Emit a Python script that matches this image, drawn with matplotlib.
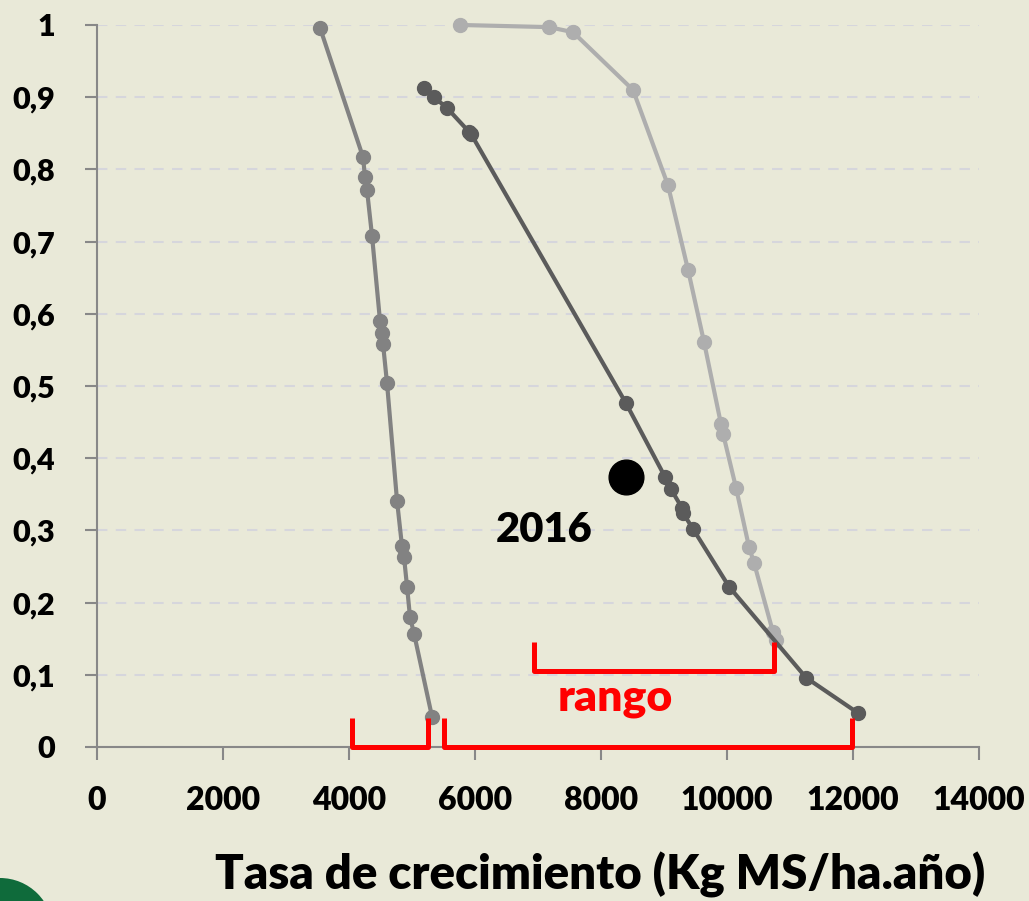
import matplotlib
matplotlib.use('Agg')
import matplotlib.pyplot as plt
from matplotlib.patches import Circle

# data
x_low = [3540, 4222, 4254, 4286, 4365, 4492, 4524, 4540, 4603, 4762, 4841, 4873, 4921, 4968, 5032, 5317]
y_low = [0.996, 0.817, 0.789, 0.771, 0.708, 0.590, 0.573, 0.558, 0.504, 0.341, 0.278, 0.263, 0.222, 0.180, 0.157, 0.042]

x_mid = [5190, 5349, 5556, 5905, 5937, 8397, 9016, 9111, 9286, 9302, 9460, 10032, 11254, 12079]
y_mid = [0.913, 0.900, 0.885, 0.852, 0.849, 0.476, 0.374, 0.357, 0.331, 0.324, 0.302, 0.222, 0.096, 0.047]

x_high = [5762, 7175, 7556, 8508, 9063, 9381, 9635, 9905, 9937, 10143, 10349, 10429, 10730, 10778]
y_high = [1.0, 0.997, 0.990, 0.910, 0.778, 0.661, 0.561, 0.447, 0.434, 0.359, 0.277, 0.255, 0.159, 0.148]

point_2016 = (8400, 0.374)

# brackets: (x start, x end, y top, y bottom)
brackets = [(4050, 5250, 0.040, 0.0), (5500, 11980, 0.040, 0.0), (6940, 10740, 0.145, 0.105)]

x_ticks = [0, 2000, 4000, 6000, 8000, 10000, 12000, 14000]
y_ticks = [0, 0.1, 0.2, 0.3, 0.4, 0.5, 0.6, 0.7, 0.8, 0.9, 1]
y_labels = ['0', '0,1', '0,2', '0,3', '0,4', '0,5', '0,6', '0,7', '0,8', '0,9', '1']

BG = '#E9E9D8'
plt.rcParams['font.family'] = ['Lato', 'DejaVu Sans']

fig = plt.figure(figsize=(10.29, 9.01), dpi=100, facecolor=BG)
ax = fig.add_axes([0.0943, 0.171, 0.8571, 0.8013], facecolor=BG)

ax.plot(x_low, y_low, color='#828282', lw=3, marker='o', ms=10, zorder=3, clip_on=False)
ax.plot(x_mid, y_mid, color='#5B5B5B', lw=3, marker='o', ms=10, zorder=4, clip_on=False)
ax.plot(x_high, y_high, color='#AEAEAE', lw=3, marker='o', ms=10, zorder=3, clip_on=False)
ax.plot([point_2016[0]], [point_2016[1]], 'o', color='black', ms=25, zorder=5)

for x0, x1, yt, yb in brackets:
    ax.plot([x0, x0, x1, x1], [yt, yb, yb, yt], color='#FF0000', lw=3.6,
            solid_joinstyle='round', solid_capstyle='butt', zorder=6, clip_on=False)

ax.text(7100, 0.300, '2016', fontsize=30, fontweight='heavy', ha='center', va='center', color='black')
ax.text(8220, 0.068, 'rango', fontsize=32, fontweight='heavy', ha='center', va='center', color='#FF0000')

ax.set_xlim(0, 14000)
ax.set_ylim(0, 1)
ax.set_xticks(x_ticks)
ax.set_xticklabels([str(t) for t in x_ticks])
ax.set_yticks(y_ticks)
ax.set_yticklabels(y_labels)
ax.tick_params(axis='both', labelsize=23, color='#888888', length=9, width=1.5, direction='out')
ax.tick_params(axis='x', pad=19)
ax.tick_params(axis='y', labelsize=22, pad=21)
for lab in ax.get_xticklabels() + ax.get_yticklabels():
    lab.set_fontweight('heavy')

for side in ['top', 'right']:
    ax.spines[side].set_visible(False)
for side in ['left', 'bottom']:
    ax.spines[side].set_color('#888888')
    ax.spines[side].set_linewidth(1.5)

ax.yaxis.grid(True, color='#D6D6DC', linestyle=(0, (5, 4)), lw=1.5)
ax.set_axisbelow(True)

fig.text(600 / 1029, 1 - 890 / 901, 'Tasa de crecimiento (Kg MS/ha.año)', fontsize=34,
         fontweight='heavy', ha='center', va='baseline')

# bit of green logo in the corner
fig.patches.append(Circle((0, -30), 53, transform=None, facecolor='#0F6B3B', edgecolor='none'))

fig.savefig('out.png', dpi=100, facecolor=BG)
